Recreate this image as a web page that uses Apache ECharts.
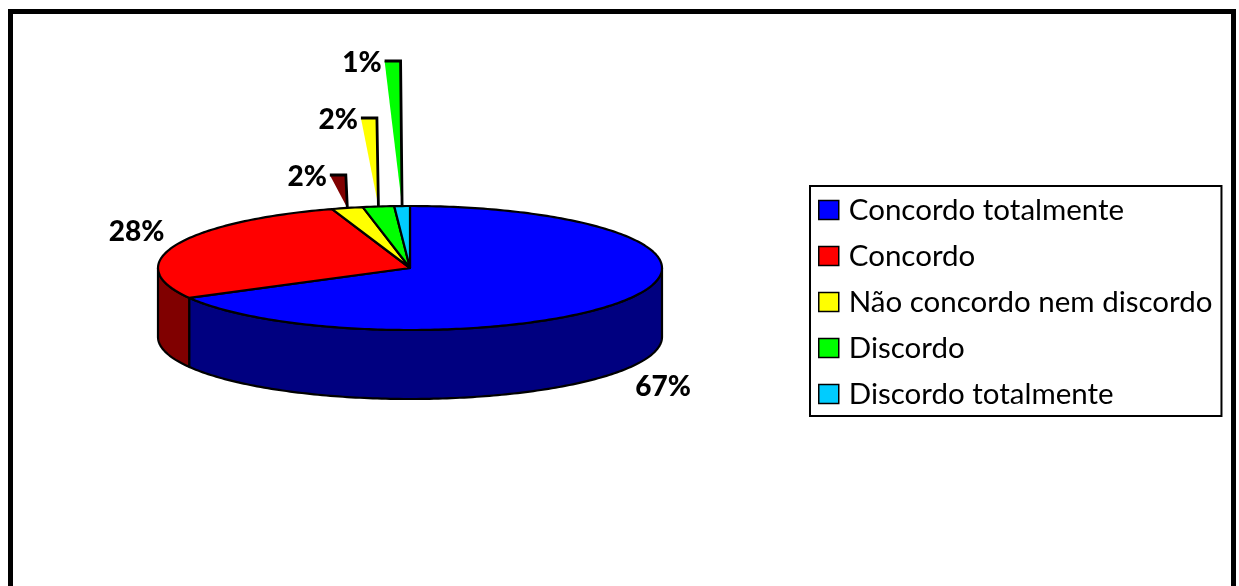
<!DOCTYPE html>
<html>
<head>
<meta charset="utf-8">
<script src="https://cdn.jsdelivr.net/npm/echarts@6/dist/echarts.min.js"></script>
<style>
  html, body { margin: 0; padding: 0; background: #fff; }
  #chart { width: 1239px; height: 586px; }
</style>
</head>
<body>
<div id="chart"></div>
<script>
// Survey answers and their shares (%)
const categories = ['Concordo totalmente', 'Concordo', 'Não concordo nem discordo', 'Discordo', 'Discordo totalmente'];
const values = [67, 28, 2, 2, 1];

// Slice colours: top face, outer wall, and the wedge-shaped leader of small slices
const topColors = ['#0000ff', '#ff0000', '#ffff00', '#00ff00', '#00ccff'];
const wallColors = ['#000080', '#800000', '#808000', '#008000', '#006680'];
const leaderColors = ['#800000', '#ffff00', '#00ff00'];

// Tilted pie geometry
const CX = 410, CY = 268, RX = 252, RY = 62, DEPTH = 69;
const LABEL_RX = 294, LABEL_RY = 98;
const FONT = 'Lato, "Liberation Sans", sans-serif';

const total = values.reduce((a, b) => a + b, 0);
const startAngles = [];
(function () {
  let acc = 0;
  values.forEach(v => { startAngles.push(acc / total * 360); acc += v; });
})();

// angle measured clockwise from 12 o'clock
function pt(deg, dy, rx, ry) {
  const r = deg * Math.PI / 180;
  return [CX + (rx || RX) * Math.sin(r), CY - (ry || RY) * Math.cos(r) + (dy || 0)];
}
function arc(a0, a1, dy) {
  const n = Math.max(2, Math.ceil(a1 - a0));
  const pts = [];
  for (let i = 0; i <= n; i++) pts.push(pt(a0 + (a1 - a0) * i / n, dy));
  return pts;
}

function makeRenderer(idx) {
  return function (params, api) {
    const v = api.value(0);
    const a0 = startAngles[idx];
    const a1 = a0 + v / total * 360;
    const mid = (a0 + a1) / 2;
    const children = [];

    // outer wall, visible on the front half only
    const w0 = Math.max(a0, 90), w1 = Math.min(a1, 270);
    if (w1 > w0) {
      const top = arc(w0, w1, 0);
      const bottom = arc(w0, w1, DEPTH).reverse();
      children.push({
        type: 'polygon',
        shape: { points: top.concat(bottom) },
        style: { fill: wallColors[idx], stroke: '#000', lineWidth: 2.2, lineJoin: 'round' }
      });
    }

    // top face
    children.push({
      type: 'polygon',
      shape: { points: [[CX, CY]].concat(arc(a0, a1, 0)) },
      style: { fill: topColors[idx], stroke: '#000', lineWidth: 2.2, lineJoin: 'round' }
    });

    const text = v + '%';
    const share = v / total;
    if (share >= 0.05) {
      const rad = mid * Math.PI / 180;
      const p = pt(mid, Math.cos(rad) < 0 ? DEPTH : 0, LABEL_RX, LABEL_RY);
      children.push({
        type: 'text',
        style: {
          x: p[0], y: p[1], text: text, align: 'center', verticalAlign: 'middle',
          font: '900 28px ' + FONT, fill: '#000'
        }
      });
    } else {
      // small slices: stacked labels with wedge leaders
      let k = 0;
      for (let i = 0; i < idx; i++) if (values[i] / total < 0.05) k++;
      const b = pt(mid, 0);
      const topY = CY - RY - 31 - 57 * k;
      const tr = b[0] - 1.5, tl = tr - 16;
      children.push({
        type: 'polygon',
        shape: { points: [[tl, topY], [tr, topY], [b[0], b[1]]] },
        style: { fill: leaderColors[k], stroke: null }
      });
      children.push({
        type: 'polyline',
        shape: { points: [[tl, topY], [tr, topY], [b[0], b[1]]] },
        style: { stroke: '#000', lineWidth: 2.8, fill: null }
      });
      children.push({
        type: 'text',
        style: {
          x: tl - 3, y: topY + 2, text: text, align: 'right', verticalAlign: 'middle',
          font: '900 28px ' + FONT, fill: '#000'
        }
      });
    }
    return { type: 'group', children: children };
  };
}

const chart = echarts.init(document.getElementById('chart'), null, { renderer: 'canvas' });
chart.setOption({
  backgroundColor: '#fff',
  animation: false,
  graphic: [{
    type: 'rect',
    z: 100,
    shape: { x: 10.5, y: 11.5, width: 1223, height: 640 },
    style: { fill: null, stroke: '#000', lineWidth: 5 }
  }],
  legend: {
    orient: 'vertical',
    left: 810,
    top: 186,
    itemWidth: 20,
    itemHeight: 19,
    itemGap: 16,
    padding: [9, 9, 7, 8],
    borderColor: '#000',
    borderWidth: 2,
    icon: 'rect',
    selectedMode: false,
    itemStyle: { borderColor: '#000', borderWidth: 1.5 },
    textStyle: { fontFamily: FONT, fontSize: 29.5, color: '#000', lineHeight: 30, padding: [0, 0, 0, 5] },
    data: categories
  },
  series: categories.map((name, i) => ({
    type: 'custom',
    name: name,
    coordinateSystem: 'none',
    itemStyle: { color: topColors[i] },
    renderItem: makeRenderer(i),
    data: [[values[i]]]
  }))
});
</script>
</body>
</html>
